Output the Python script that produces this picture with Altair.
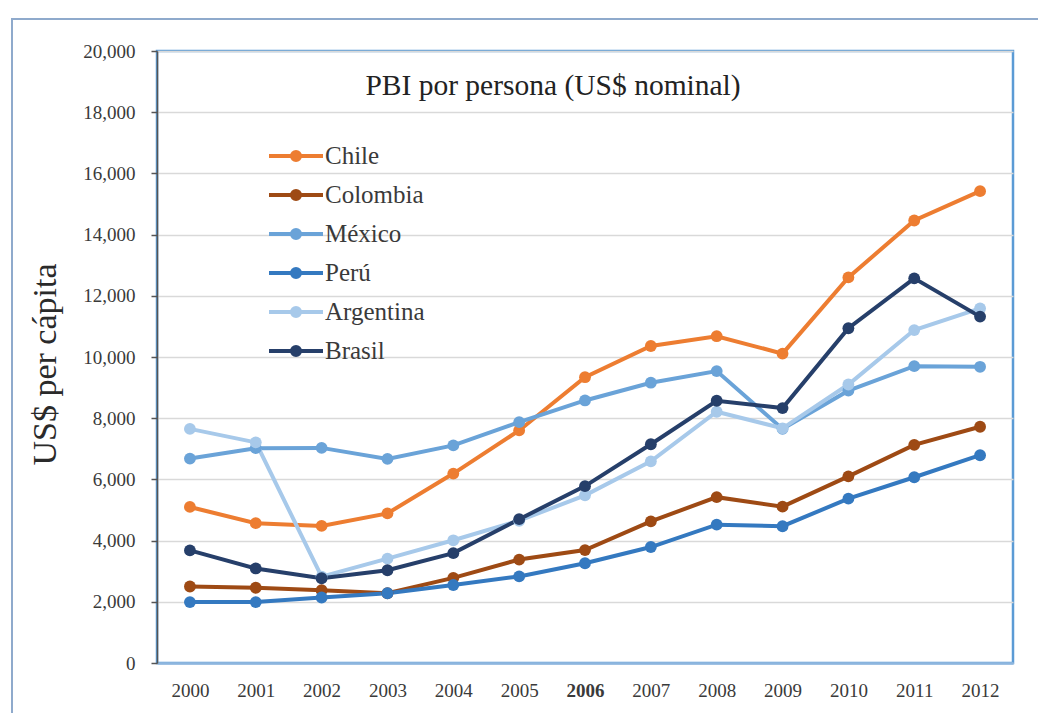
import altair as alt
import pandas as pd

years = [str(y) for y in range(2000, 2013)]
countries = ["Chile", "Colombia", "México", "Perú", "Argentina", "Brasil"]
colors = ["#ED7D31", "#9E4A14", "#6AA3D8", "#3479C0", "#A7C9EA", "#263F6A"]

chile = [5100, 4570, 4480, 4890, 6190, 7600, 9340, 10360, 10680, 10110, 12600, 14460, 15420]
colombia = [2500, 2460, 2380, 2280, 2780, 3380, 3690, 4630, 5420, 5110, 6100, 7130, 7720]
mexico = [6680, 7020, 7030, 6670, 7110, 7870, 8580, 9160, 9540, 7650, 8900, 9700, 9680]
peru = [1990, 1990, 2140, 2280, 2550, 2830, 3260, 3790, 4520, 4470, 5370, 6070, 6790]
argentina = [7650, 7210, 2820, 3410, 4010, 4650, 5480, 6590, 8210, 7670, 9100, 10880, 11590]
brasil = [3680, 3090, 2770, 3030, 3590, 4700, 5780, 7150, 8570, 8330, 10940, 12570, 11320]

series = [chile, colombia, mexico, peru, argentina, brasil]
rows = []
for name, vals in zip(countries, series):
    for yr, v in zip(years, vals):
        rows.append({"Año": yr, "País": name, "PBI": v})
df = pd.DataFrame(rows)

SERIF = "Liberation Serif"

# legend glyph: a short line with a filled dot in the middle
legend_glyph = (
    "M-1.8,0H1.8"
    "M-0.27,0A0.27,0.27 0 1,1 0.27,0A0.27,0.27 0 1,1 -0.27,0"
    "M-0.11,0A0.11,0.11 0 1,1 0.11,0A0.11,0.11 0 1,1 -0.11,0"
)

color = alt.Color(
    "País:N",
    scale=alt.Scale(domain=countries, range=colors),
    legend=alt.Legend(
        title=None,
        orient="none",
        legendX=122,
        legendY=88,
        symbolType=legend_glyph,
        symbolSize=900,
        symbolStrokeWidth=4,
        labelFont=SERIF,
        labelFontSize=25,
        labelColor="#3a3a3a",
        labelOffset=12,
        rowPadding=9,
    ),
)

x = alt.X(
    "Año:O",
    sort=years,
    title=None,
    axis=alt.Axis(
        labelAngle=0,
        labelFont=SERIF,
        labelFontSize=19,
        labelColor="#3a3a3a",
        labelFontWeight=alt.expr("datum.value == '2006' ? 'bold' : 'normal'"),
        labelPadding=18,
        ticks=False,
        domainColor="#8DB6DF",
        domainWidth=2.5,
        grid=False,
    ),
)

y = alt.Y(
    "PBI:Q",
    scale=alt.Scale(domain=[0, 20000], nice=False),
    title="US$ per cápita",
    axis=alt.Axis(
        values=list(range(0, 20001, 2000)),
        format=",.0f",
        labelFont=SERIF,
        labelFontSize=19,
        labelColor="#3a3a3a",
        labelPadding=16,
        tickSize=6,
        tickColor="#555555",
        tickWidth=1.5,
        domainColor="#555555",
        domainWidth=1.5,
        gridColor="#D9D9D9",
        gridWidth=1.5,
        titleFont=SERIF,
        titleFontSize=34,
        titleFontWeight="normal",
        titleColor="#2a2a2a",
        titleX=-112,
        titleY=313,
        titleAngle=270,
        titleAlign="center",
        titleBaseline="middle",
    ),
)

lines = alt.Chart(df).mark_line(strokeWidth=4).encode(x=x, y=y, color=color)
points = alt.Chart(df).mark_point(filled=True, size=140, opacity=1).encode(
    x=x, y=y, color=alt.Color("País:N", scale=alt.Scale(domain=countries, range=colors), legend=None)
)

title = alt.Chart(pd.DataFrame({"t": ["PBI por persona (US$ nominal)"]})).mark_text(
    font=SERIF, fontSize=29.5, color="#222222", align="center", baseline="middle"
).encode(text="t:N", x=alt.value(396), y=alt.value(35))

frame = alt.Chart(pd.DataFrame({"f": [0]})).mark_rect(
    fill=None, stroke="#8FAACC", strokeWidth=2
).encode(x=alt.value(-145), x2=alt.value(900), y=alt.value(-32), y2=alt.value(680))

chart = (
    alt.layer(frame, lines, points, title)
    .properties(
        width=856,
        height=612,
        autosize=alt.AutoSizeParams(type="none"),
        padding={"left": 157, "top": 51, "right": 25, "bottom": 50},
        background="white",
    )
    .configure_view(stroke="#5B9BD5", strokeWidth=2.5)
)

chart.save("out.html", embed_options={"renderer": "svg", "actions": False})
